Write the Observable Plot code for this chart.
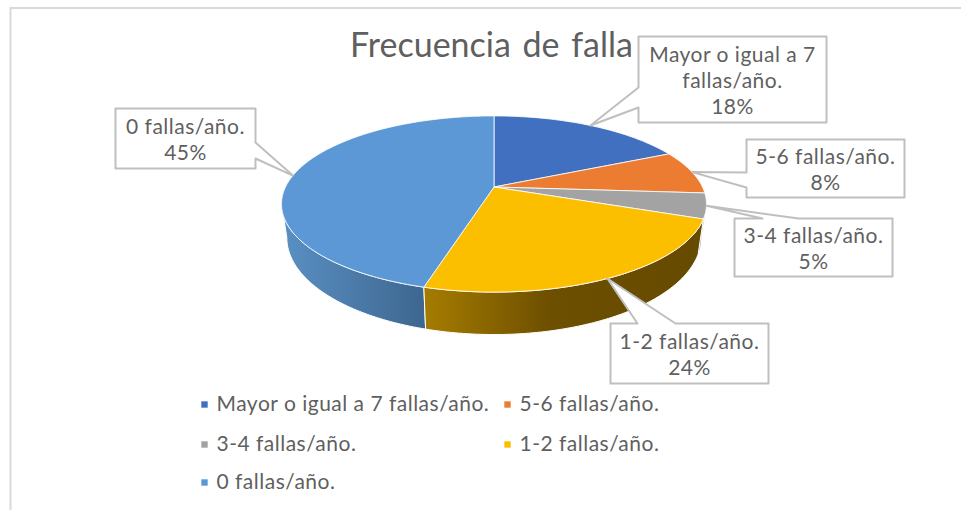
<!DOCTYPE html>
<html>
<head>
<meta charset="utf-8">
<script src="https://cdn.jsdelivr.net/npm/d3@7"></script>
<script src="https://cdn.jsdelivr.net/npm/@observablehq/plot@0.6"></script>
<style>
html,body{margin:0;padding:0;background:#fff}
svg{display:block}
.lbl text{letter-spacing:0.5px}
.ttl text{word-spacing:3px}
</style>
</head>
<body>
<div id="chart"></div>
<script>
// --- data ---
const titleText = "Frecuencia de falla";
const categories = ["Mayor o igual a 7 fallas/año.", "5-6 fallas/año.", "3-4 fallas/año.", "1-2 fallas/año.", "0 fallas/año."];
const shares = [18, 8, 4.6, 23.6, 45.4];
const colors = ["#4270c1", "#ec7c31", "#a3a3a3", "#fcbf00", "#5b98d5"];
// callout text wrapping
const calloutNames = ["Mayor o igual a 7\nfallas/año.", "5-6 fallas/año.", "3-4 fallas/año.", "1-2 fallas/año.", "0 fallas/año."];

// --- layout ---
const W = 961, H = 510;
const FONT = "Lato, 'Open Sans', sans-serif";
const persp = {cx: 493.5, cy: 186.5, A: 208.5, B: 84.8, k: 0.193};
const calloutBoxes = [
  {x0: 638, y0: 36, x1: 826, y1: 122, side: "left", a: 87, b: 107},
  {x0: 746, y0: 139, x1: 904, y1: 197, side: "left", a: 172, b: 187},
  {x0: 734, y0: 218, x1: 892, y1: 276, side: "top", a: 762, b: 798},
  {x0: 610, y0: 323, x1: 768, y1: 383, side: "top", a: 637, b: 675},
  {x0: 115, y0: 108, x1: 255, y1: 168, side: "right", a: 142, b: 158}
];
const legendPos = [[204, 404], [507, 404], [204, 444], [507, 444], [204, 482]];

// --- geometry: an ellipse seen in perspective, angle from 12 o'clock ---
function topPoint(deg) {
  const t = deg * Math.PI / 180, u = Math.sin(t), v = -Math.cos(t), w = 1 - persp.k * v;
  return [persp.cx + persp.A * u / w, persp.cy + persp.B * v / w];
}
function lowPoint(deg) {
  const [x, y] = topPoint(deg);
  return [persp.cx + (x - persp.cx) * 0.975, y + 35 + (y - 217) * 0.1];
}
const total = d3.sum(shares);
const cum = d3.cumsum(shares);
const slices = categories.map((c, i) => ({
  cat: c,
  a: (i ? cum[i - 1] : 0) / total * 360,
  b: cum[i] / total * 360
}));
function arc(fn, a, b) {
  const n = Math.max(2, Math.ceil(Math.abs(b - a)));
  return d3.range(n + 1).map(j => fn(a + (b - a) * j / n));
}
const topRows = slices.flatMap(s => {
  const pts = [[persp.cx, persp.cy], ...arc(topPoint, s.a, s.b), [persp.cx, persp.cy]];
  return pts.map(p => ({x: p[0], y: p[1], cat: s.cat}));
});
function sideRows(i) {
  const s = slices[i], a = Math.max(s.a, 101), b = Math.min(s.b, 259);
  const pts = [...arc(topPoint, a, b), ...arc(lowPoint, b, a)];
  pts.push(pts[0]);
  return pts.map(p => ({x: p[0], y: p[1]}));
}
const calloutRows = calloutBoxes.map((c, i) => {
  const s = slices[i], tip = topPoint((s.a + s.b) / 2);
  let pts;
  if (c.side === "left") pts = [[c.x0, c.y0], [c.x1, c.y0], [c.x1, c.y1], [c.x0, c.y1], [c.x0, c.b], tip, [c.x0, c.a]];
  if (c.side === "right") pts = [[c.x0, c.y0], [c.x1, c.y0], [c.x1, c.a], tip, [c.x1, c.b], [c.x1, c.y1], [c.x0, c.y1]];
  if (c.side === "top") pts = [[c.x0, c.y0], [c.a, c.y0], tip, [c.b, c.y0], [c.x1, c.y0], [c.x1, c.y1], [c.x0, c.y1]];
  pts.push(pts[0]);
  return pts.map(p => ({x: p[0], y: p[1]}));
});
const calloutLabels = calloutBoxes.map((c, i) => ({
  x: (c.x0 + c.x1) / 2,
  y: (c.y0 + c.y1) / 2,
  t: `${calloutNames[i]}\n${Math.round(shares[i])}%`
}));
const legendRows = categories.map((c, i) => ({cat: c, x: legendPos[i][0], y: legendPos[i][1]}));

function gradient(id, stops) {
  return `<linearGradient id="${id}" x1="0" y1="0" x2="1" y2="0">` +
    stops.map(([o, c]) => `<stop offset="${o}" stop-color="${c}"/>`).join("") + `</linearGradient>`;
}
const defsMark = () => {
  const g = document.createElementNS("http://www.w3.org/2000/svg", "defs");
  g.innerHTML =
    gradient("sideBlue", [[0, "#5a90c4"], [1, "#3d668f"]]) +
    gradient("sideGray", [[0, "#6f6f6f"], [1, "#636363"]]) +
    gradient("sideYellow", [[0, "#a67c00"], [0.45, "#6d4f00"], [1, "#664a00"]]);
  return g;
};

const chart = Plot.plot({
  width: W, height: H,
  margin: 0,
  style: {fontFamily: FONT, background: "#fff"},
  x: {domain: [0, W], range: [0, W], axis: null},
  y: {domain: [0, H], range: [0, H], axis: null},
  color: {domain: categories, range: colors},
  marks: [
    defsMark,
    Plot.line([{x: 10, y: H}, {x: 10, y: 7.5}, {x: W, y: 7.5}], {x: "x", y: "y", stroke: "#d9d9d9", strokeWidth: 2}),
    Plot.text([titleText], {x: () => 491, y: () => 46, text: d => d, fontSize: 34, fill: "#5f5f5f", fontFamily: FONT, className: "ttl"}),
    Plot.line(sideRows(4), {x: "x", y: "y", fill: "url(#sideBlue)", stroke: "#fff", strokeWidth: 1}),
    Plot.line(sideRows(2), {x: "x", y: "y", fill: "url(#sideGray)", stroke: "#fff", strokeWidth: 0.5}),
    Plot.line(sideRows(3), {x: "x", y: "y", fill: "url(#sideYellow)", stroke: "#fff", strokeWidth: 1}),
    Plot.line(topRows, {x: "x", y: "y", z: "cat", fill: "cat", stroke: "#fff", strokeWidth: 1, strokeOpacity: 0.8}),
    ...calloutRows.map(r => Plot.line(r, {x: "x", y: "y", fill: "#fff", stroke: "#bfbfbf", strokeWidth: 2})),
    Plot.text(calloutLabels, {x: "x", y: "y", text: "t", fontSize: 21, lineHeight: 1.24, fill: "#5f5f5f", fontFamily: FONT, className: "lbl"}),
    Plot.dot(legendRows, {x: "x", y: "y", fill: "cat", symbol: "square", r: 3.6}),
    Plot.text(legendRows, {x: d => d.x + 12, y: "y", text: "cat", textAnchor: "start", fontSize: 21, fill: "#5f5f5f", fontFamily: FONT, className: "lbl"})
  ]
});
document.getElementById("chart").append(chart);
</script>
</body>
</html>
